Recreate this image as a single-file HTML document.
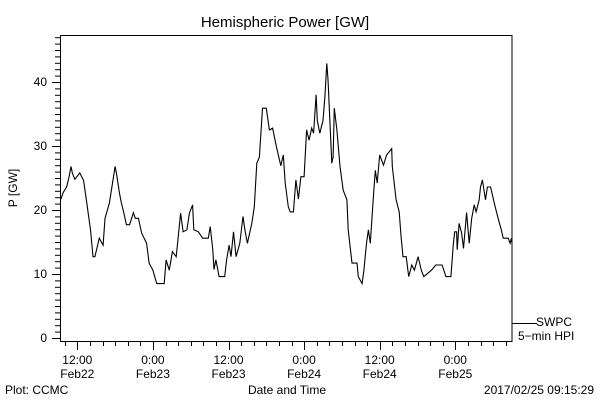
<!DOCTYPE html>
<html><head><meta charset="utf-8"><style>
body{margin:0;background:#fff;}
svg{display:block;font-family:"Liberation Sans",sans-serif;}
</style></head><body>
<svg id="chart" width="600" height="400" viewBox="0 0 600 400">
<defs><clipPath id="plotclip"><rect x="60.5" y="35.5" width="451.5" height="306"/></clipPath></defs>
<text x="285" y="27" font-size="15" text-anchor="middle">Hemispheric Power [GW]</text>
<rect x="60.5" y="35.5" width="451.5" height="306" fill="none" stroke="#000"/>
<g id="yaxis"></g>
<g id="xaxis"></g>
<text transform="translate(17,188) rotate(-90)" font-size="12" text-anchor="middle">P [GW]</text>
<text x="287" y="394" font-size="12" text-anchor="middle">Date and Time</text>
<text x="5" y="394" font-size="12">Plot: CCMC</text>
<text x="594" y="394" font-size="12" text-anchor="end">2017/02/25 09:15:29</text>
<line x1="512" y1="323.5" x2="537" y2="323.5" stroke="#000"/>
<text x="536" y="326" font-size="12">SWPC</text>
<text x="518" y="340" font-size="12">5−min HPI</text>
<path id="series" clip-path="url(#plotclip)" fill="none" stroke="#000" stroke-width="1.1"/>
</svg>
<script>
const hours=[9.4,9.8,10.3,10.7,11.0,11.2,11.6,12.4,13,13.5,14.1,14.5,14.8,15.5,16.1,16.4,17.1,17.5,18,18.2,18.7,19,19.4,19.8,20.3,20.9,21.2,21.7,22.2,23,23.4,24,24.6,25.8,26.1,26.6,27.1,27.7,28,28.4,28.8,29.4,29.8,30.3,30.5,31.2,31.9,32.8,33.1,33.5,33.7,34,34.5,35.4,35.7,36.1,36.4,36.8,37.2,37.8,38.3,38.6,39,39.7,40.1,40.5,40.9,41.4,42,42.5,43,43.6,44.3,44.7,45,45.5,45.8,46.3,46.7,47.1,47.5,48,48.4,48.8,49.2,49.5,49.9,50.1,50.5,51,51.3,51.6,51.8,52.4,52.6,52.8,53.2,53.7,54.2,54.8,55,55.6,56.4,56.6,57.2,57.5,57.9,58.2,58.5,59,59.3,59.6,60,60.6,61.1,61.9,62,62.6,63.1,63.4,63.7,64.2,64.6,65.1,65.5,66.1,66.6,67,68.2,68.9,69.9,70.5,71.3,71.7,71.9,72.2,72.3,72.6,73,73.3,73.8,74.2,74.6,75,75.3,75.8,76,76.3,76.8,77.1,77.6,78.2,78.8,79.3,79.6,80.4,80.7,80.9,81];
const power=[21.7,22.8,23.6,25.2,26.8,25.8,24.8,25.8,24.6,21.1,16.9,12.7,12.7,15.6,14.5,18.7,21.1,23.6,26.8,25.8,22.6,21.1,19.5,17.7,17.7,19.6,18.7,18.7,16.4,14.8,11.7,10.6,8.5,8.5,12.2,10.6,13.5,12.7,15.6,19.5,16.6,16.9,19.5,20.8,16.9,16.6,15.6,15.6,17.4,13.8,10.7,12.2,9.6,9.6,12.2,14.5,12.7,16.6,12.7,14.8,19,16.9,14.8,17.9,20.5,27.3,28.3,35.9,35.9,32.5,32.8,29.9,26.9,28.6,24.2,20.5,19.7,19.7,24.7,21.7,25.2,25.2,32.5,30.9,32.8,32,38,34,32,34,37.7,42.9,40.4,27.3,28.3,35.9,32.5,26.8,23.1,21.6,16.9,11.7,11.7,9.6,8.5,10.6,14.8,16.9,14.8,22.1,26.2,24.2,28.6,27,28.6,29.6,26.8,21.6,19.7,15.8,12.7,12.7,9.6,11.4,10.6,12.7,10.6,9.6,10.6,11.4,11.4,9.6,9.6,14.8,16.6,16.6,13.8,17.9,16.4,14,19.6,14.8,18.7,20.8,19.7,21.6,23.6,24.7,21.6,23.6,23.6,21,18.7,16.9,15.6,15.6,14.8,15.6,14.8];
const yTicks=[0,10,20,30,40];
const xTickHours=[12,24,36,48,60,72];
const xTickTime=["12:00","0:00","12:00","0:00","12:00","0:00"];
const xTickDate=["Feb22","Feb23","Feb23","Feb24","Feb24","Feb25"];
const NS="http://www.w3.org/2000/svg";
function xs(h){return 77.3+(h-12)*6.3;}
function ys(v){return 338-v*6.4;}
const ya=document.getElementById('yaxis');
for(let v=0;v<=47;v++){
  const l=document.createElementNS(NS,'line');
  const major=v%10===0;
  l.setAttribute('x1',major?52:55);l.setAttribute('x2',60.5);
  l.setAttribute('y1',ys(v)+0.5);l.setAttribute('y2',ys(v)+0.5);
  l.setAttribute('stroke','#000');
  
  
  ya.appendChild(l);
}
yTicks.forEach(v=>{
  const t=document.createElementNS(NS,'text');
  t.setAttribute('x',47);t.setAttribute('y',ys(v)+4);
  t.setAttribute('font-size','12');t.setAttribute('text-anchor','end');
  t.textContent=v;
  
  
  ya.appendChild(t);
});
const xa=document.getElementById('xaxis');
for(let h=10;h<=80;h+=2){
  const l=document.createElementNS(NS,'line');
  const major=h%12===0;
  l.setAttribute('x1',Math.round(xs(h))+0.5);l.setAttribute('x2',Math.round(xs(h))+0.5);
  l.setAttribute('y1',341.5);l.setAttribute('y2',major?350:346);
  l.setAttribute('stroke','#000');
  
  
  xa.appendChild(l);
}
xTickHours.forEach((h,i)=>{
  [[xTickTime[i],364],[xTickDate[i],378]].forEach(([s,y])=>{
    const t=document.createElementNS(NS,'text');
    t.setAttribute('x',xs(h));t.setAttribute('y',y);
    t.setAttribute('font-size','12');t.setAttribute('text-anchor','middle');
    t.textContent=s;
    
    
    xa.appendChild(t);
  });
});
let d='';
hours.forEach((h,i)=>{d+=(i?'L':'M')+xs(h).toFixed(1)+','+ys(power[i]).toFixed(1);});
document.getElementById('series').setAttribute('d',d);
</script>
</body></html>
